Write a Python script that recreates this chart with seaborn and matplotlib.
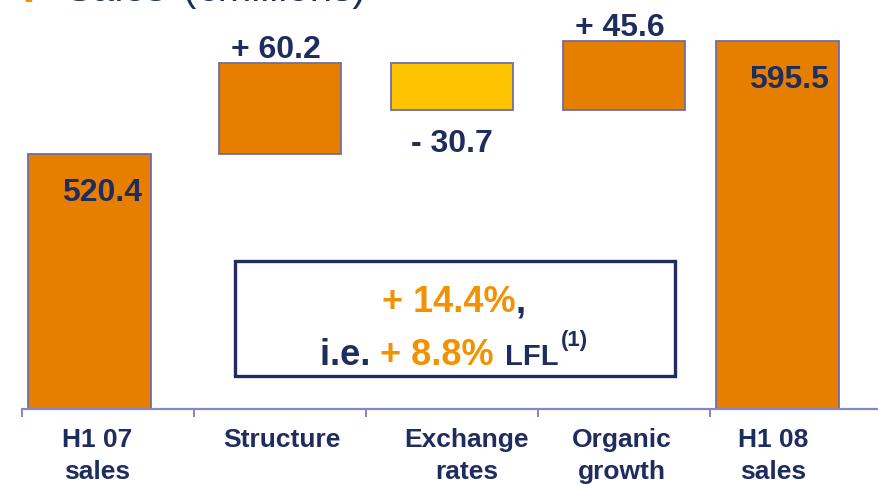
import matplotlib
matplotlib.use("Agg")
import matplotlib.pyplot as plt
from matplotlib.patches import Rectangle
import pandas as pd
import seaborn as sns

# ---------------- data ----------------
categories = ["H1 07\nsales", "Structure", "Exchange\nrates", "Organic\ngrowth", "H1 08\nsales"]
values = [520.4, 60.2, -30.7, 45.6, 595.5]
kinds = ["total", "delta", "delta", "delta", "total"]
value_labels = ["520.4", "+ 60.2", "- 30.7", "+ 45.6", "595.5"]
growth_text = "+ 14.4%"
lfl_text = "+ 8.8%"
title_main = "Sales"
title_unit = "(€millions)"

# ---------------- style ----------------
ORANGE = "#E67E00"
YELLOW = "#FFC400"
NAVY = "#1F2D5E"
TEXT_ORANGE = "#F39200"
EDGE = "#6E6EA6"
AXIS = "#8585C8"
W, H, DPI = 879, 485, 100
bar_shift = [-0.105, 0.0, 0.0, 0.0, -0.11]
label_shift = [-0.065, 0.012, 0.087, -0.012, -0.134]
y_floor, y_ceil = 350.9, 623.4

sns.set_theme(style="white")
plt.rcParams["font.family"] = ["Liberation Sans", "DejaVu Sans"]

# waterfall geometry
bottoms, heights = [], []
running = 0.0
for v, k in zip(values, kinds):
    if k == "total":
        bottoms.append(0.0)
        heights.append(v)
        running = v
    else:
        bottoms.append(running + min(v, 0))
        heights.append(abs(v))
        running += v
colors = [YELLOW if (k == "delta" and v < 0) else ORANGE for v, k in zip(values, kinds)]

df = pd.DataFrame({"cat": categories, "height": heights})

fig = plt.figure(figsize=(W / DPI, H / DPI), dpi=DPI)
ax = fig.add_axes([22 / W, (H - 410) / H, (W - 22) / W, 410 / H])

sns.barplot(data=df, x="cat", y="height", ax=ax, order=categories, width=0.715,
            errorbar=None, bottom=bottoms, color=ORANGE, edgecolor=EDGE, linewidth=1.3,
            saturation=1)

patches = list(ax.patches)
for p, c, s in zip(patches, colors, bar_shift):
    p.set_facecolor(c)
    p.set_x(p.get_x() + s)

ax.set_ylim(y_floor, y_ceil)
ax.set_xlim(-0.5, -0.5 + (W - 22) / 172.0)
ax.set_xlabel("")
ax.set_ylabel("")
ax.set_yticks([])

for sp in ["left", "right", "top"]:
    ax.spines[sp].set_visible(False)
ax.spines["bottom"].set_color(AXIS)
ax.spines["bottom"].set_linewidth(1.6)

ax.set_xticks([i + s for i, s in enumerate(label_shift)])
ax.set_xticklabels(categories, fontsize=19, fontweight="bold", color=NAVY, linespacing=1.4)
ax.set_xticks([i - 0.5 for i in range(5)], minor=True)
ax.tick_params(axis="x", which="major", length=0, pad=13)
ax.tick_params(axis="x", which="minor", length=6, width=1.4, color=AXIS, direction="out",
               bottom=True)

# value labels
for i, (v, k, lab, b, h, s) in enumerate(zip(values, kinds, value_labels, bottoms, heights, bar_shift)):
    xc = i + s
    if k == "total":
        ax.annotate(lab, xy=(xc, b + h), xytext=(12, -46), textcoords="offset pixels",
                    ha="center", va="baseline", fontsize=23, fontweight="bold", color=NAVY)
    elif v >= 0:
        ax.annotate(lab, xy=(xc, b + h), xytext=(-4, 6), textcoords="offset pixels",
                    ha="center", va="baseline", fontsize=23, fontweight="bold", color=NAVY)
    else:
        ax.annotate(lab, xy=(xc, b), xytext=(0, -41), textcoords="offset pixels",
                    ha="center", va="baseline", fontsize=23, fontweight="bold", color=NAVY)

# highlight box
fig.add_artist(Rectangle((235 / W, (H - 377) / H), 440 / W, 115 / H, transform=fig.transFigure,
                         fill=False, edgecolor=NAVY, linewidth=2.4))

renderer = fig.canvas.get_renderer()


def rich_line(pieces, xc_px, base_px):
    # pieces: (text, size, color, dy_px, gap_px)
    widths = []
    for txt, size, col, dy, gap in pieces:
        t = fig.text(0, 0, txt, fontsize=size, fontweight="bold", color=col)
        widths.append(t.get_window_extent(renderer=renderer).width + gap)
        t.remove()
    x = xc_px - sum(widths) / 2
    for (txt, size, col, dy, gap), w in zip(pieces, widths):
        fig.text(x / W, (H - base_px + dy) / H, txt, fontsize=size, fontweight="bold",
                 color=col, ha="left", va="baseline")
        x += w


rich_line([(growth_text, 26, TEXT_ORANGE, 0, 0), (",", 26, NAVY, 0, 0)], 454, 312)
rich_line([("i.e. ", 26, NAVY, 0, 0), (lfl_text + " ", 26, TEXT_ORANGE, 0, 1),
           ("LFL", 21, NAVY, 0, 2), ("(1)", 16, NAVY, 19, 0)], 454, 365)

# title (mostly cut off at the top, as in the original)
fig.text(24 / W, 1 - 1 / H, "■", fontsize=6, color=TEXT_ORANGE, va="baseline",
         family=["DejaVu Sans"])
fig.text(65 / W, 1 - 1 / H, title_main, fontsize=29, color=NAVY, va="baseline")
fig.text(183 / W, 1 - 1 / H, title_unit, fontsize=29, color=NAVY, va="baseline")

fig.savefig("out.png", dpi=DPI)
